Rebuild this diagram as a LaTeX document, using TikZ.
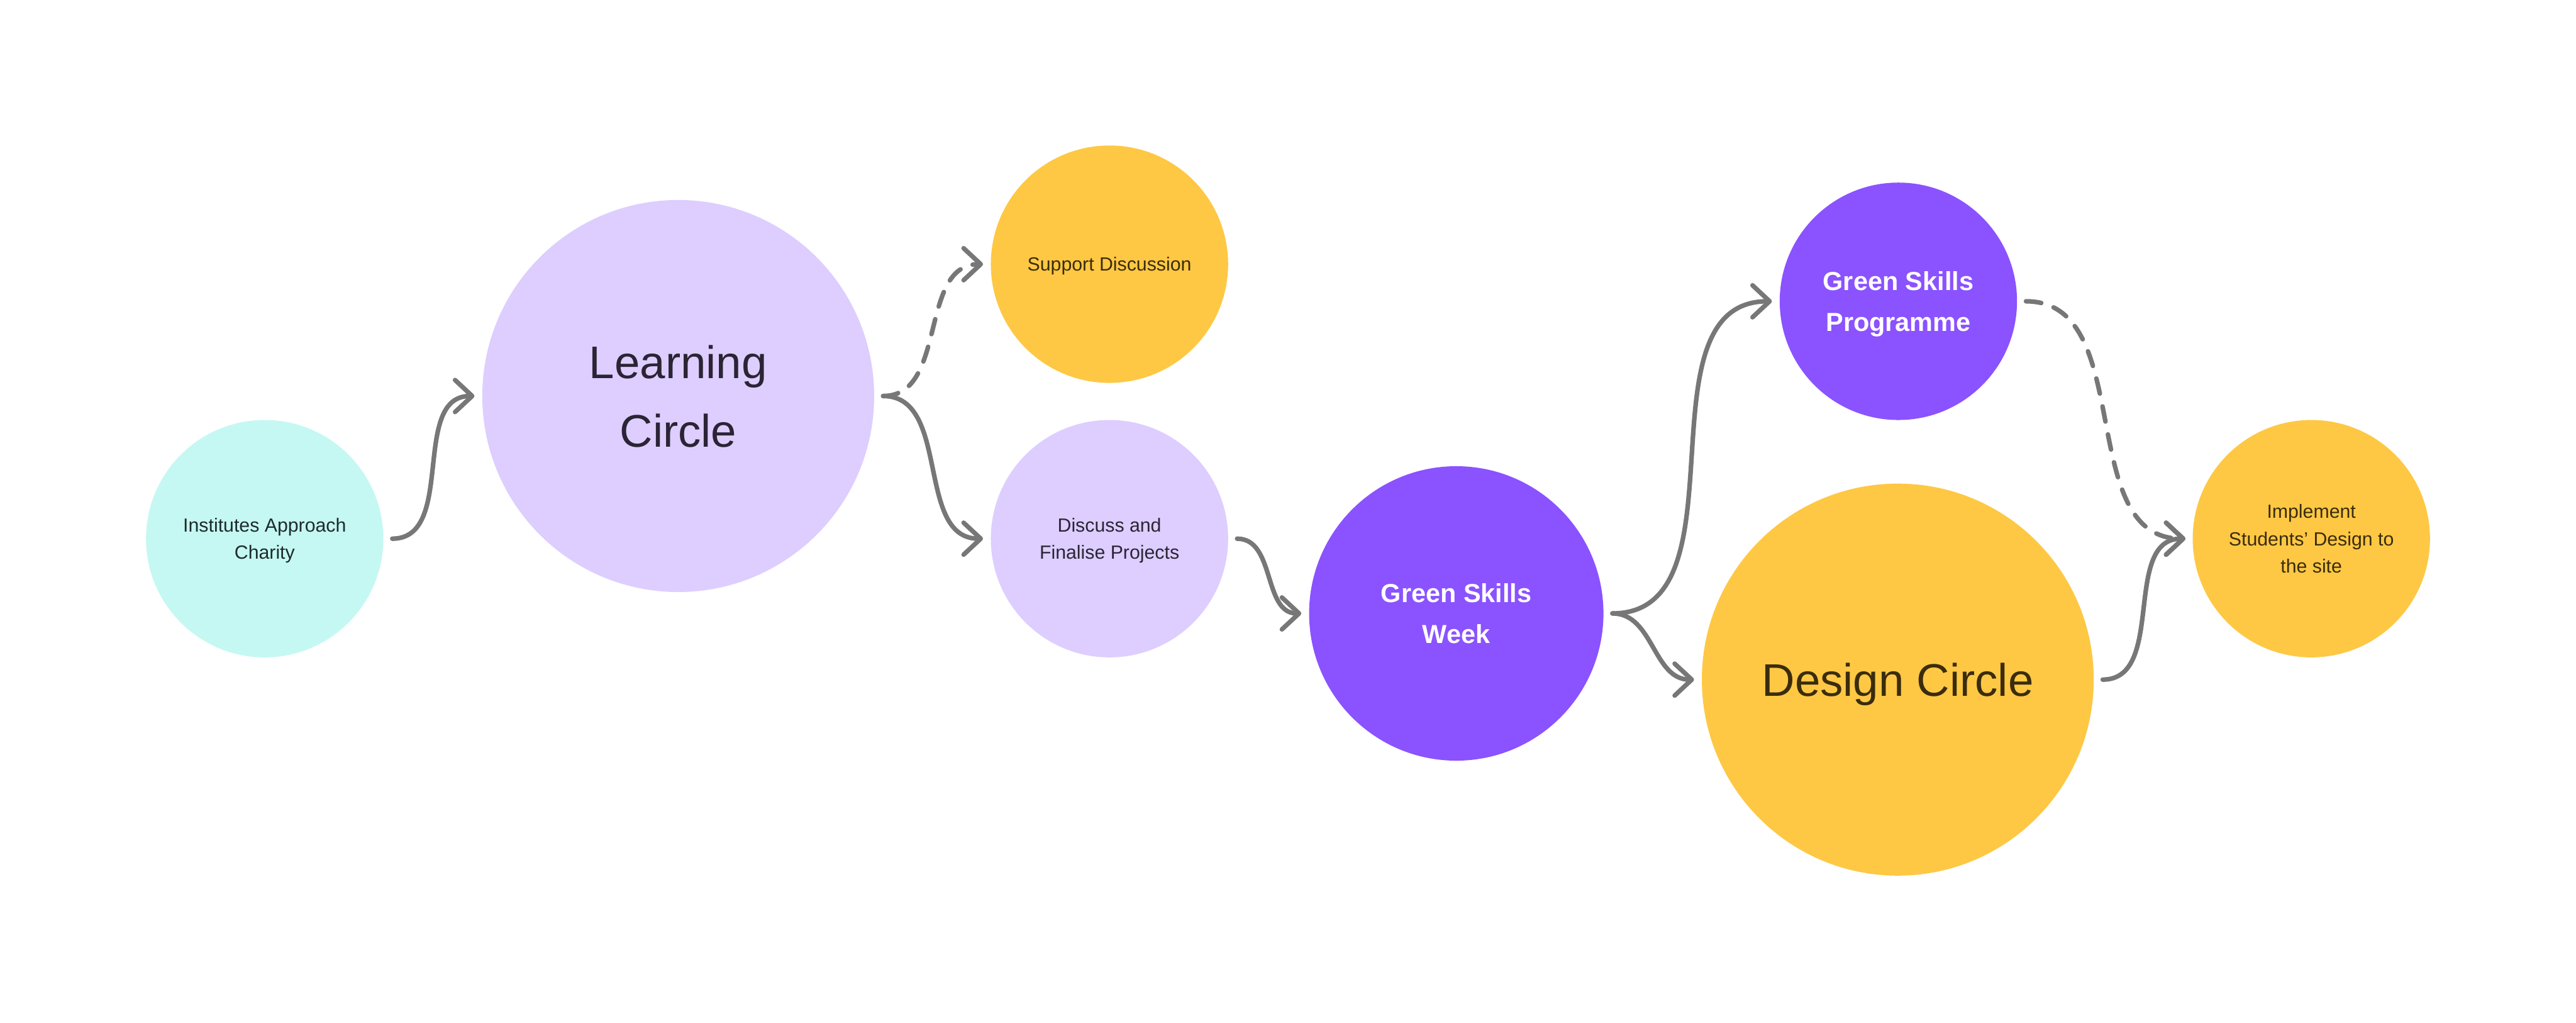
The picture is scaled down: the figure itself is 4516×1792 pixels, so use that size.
\documentclass[tikz,border=0pt]{standalone}
\usepackage{fontspec}
\setmainfont{Liberation Sans}
\usetikzlibrary{arrows.meta}
\definecolor{cyanc}{HTML}{C5F8F3}
\definecolor{lav}{HTML}{DDCEFF}
\definecolor{yel}{HTML}{FEC844}
\definecolor{pur}{HTML}{8B52FF}
\definecolor{arr}{HTML}{777777}
\definecolor{txtdark}{HTML}{2B2435}
\definecolor{txtbrown}{HTML}{3A2C0C}
\definecolor{txtteal}{HTML}{1E2B2B}
\begin{document}
\begin{tikzpicture}[x=0.1mm,y=-0.1mm,
  bub/.style={circle, inner sep=0pt, align=center, text depth=0pt},
  smallbub/.style={bub, minimum size=41.6mm, font=\fontsize{9.5pt}{13.66pt}\selectfont},
  weekbub/.style={bub, minimum size=51.6mm, font=\fontsize{13pt}{20.5pt}\selectfont\bfseries},
  progbub/.style={bub, minimum size=41.6mm, font=\fontsize{13pt}{20.5pt}\selectfont\bfseries},
  bigbub/.style={bub, minimum size=68.7mm, font=\fontsize{22.8pt}{34.1pt}\selectfont},
  conn/.style={draw=arr, line width=0.8mm, line cap=round,
    -{Straight Barb[length=3mm,width=5.6mm,line cap=round,line join=round]}},
  dconn/.style={conn, dash pattern=on 2.7mm off 2.3mm}
]
\useasboundingbox (0,0) rectangle (4516,1792);
\fill[white] (0,0) rectangle (4516,1792);

\node[smallbub, fill=cyanc, text=txtteal] (inst) at (464,944) {Institutes Approach\\Charity};
\node[bigbub, fill=lav, text=txtdark] (learn) at (1189,694) {Learning\\Circle};
\node[smallbub, fill=yel, text=txtbrown] (supp) at (1945,463) {Support Discussion};
\node[smallbub, fill=lav, text=txtdark] (disc) at (1945,944) {Discuss and\\Finalise Projects};
\node[weekbub, fill=pur, text=white] (week) at (2553,1075) {Green Skills\\Week};
\node[progbub, fill=pur, text=white] (prog) at (3328,528) {Green Skills\\Programme};
\node[bigbub, fill=yel, text=txtbrown] (design) at (3327,1191) {Design Circle};
\node[smallbub, fill=yel, text=txtbrown] (impl) at (4052,944) {Implement\\Students’ Design to\\the site};

% connector end points
\coordinate (s1) at ([xshift=1.5mm]inst.east);
\coordinate (e1) at ([xshift=-1.3mm]learn.west);
\coordinate (s2) at ([xshift=1.5mm]learn.east);
\coordinate (e2) at ([xshift=-1.3mm]supp.west);
\coordinate (e3) at ([xshift=-1.3mm]disc.west);
\coordinate (s4) at ([xshift=1.5mm]disc.east);
\coordinate (e4) at ([xshift=-1.3mm]week.west);
\coordinate (s5) at ([xshift=1.5mm]week.east);
\coordinate (e5) at ([xshift=-1.3mm]prog.west);
\coordinate (e6) at ([xshift=-1.3mm]design.west);
\coordinate (s7) at ([xshift=1.5mm]prog.east);
\coordinate (e7) at ([xshift=-1.2mm]impl.west);
\coordinate (s8) at ([xshift=1.5mm]design.east);

\draw[conn]  (s1) to[out=0,in=180] (e1);
\draw[dconn] (s2) to[out=0,in=180] (e2);
\draw[conn]  (s2) to[out=0,in=180] (e3);
\draw[conn]  (s4) to[out=0,in=180] (e4);
\draw[conn]  (s5) to[out=0,in=180] (e5);
\draw[conn]  (s5) to[out=0,in=180] (e6);
\draw[dconn] (s7) to[out=0,in=180] (e7);
\draw[conn]  (s8) to[out=0,in=180] (e7);
\end{tikzpicture}
\end{document}
